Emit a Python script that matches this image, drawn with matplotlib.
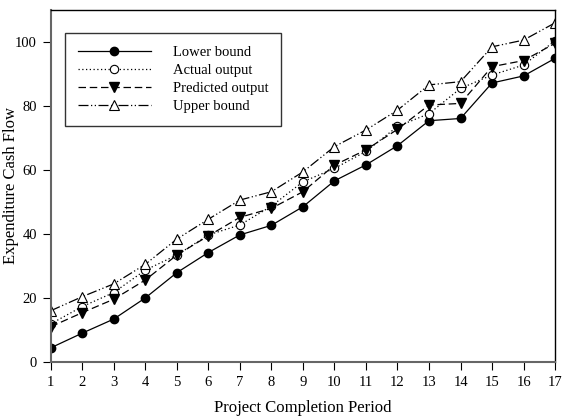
import numpy as np
import matplotlib.pyplot as plt

periods = list(range(1, 18))
lower = [4.4, 9.0, 13.4, 20.0, 27.9, 34.2, 39.7, 42.7, 48.5, 56.6, 61.6, 67.6, 75.4, 76.1, 87.2, 89.4, 94.9]
actual = [11.9, 17.3, 21.7, 28.7, 33.4, 39.7, 42.8, 48.7, 56.3, 60.5, 65.8, 73.6, 77.6, 85.5, 89.7, 92.8, 100.4]
predicted = [11.0, 15.4, 19.6, 25.6, 33.4, 39.4, 45.2, 48.0, 53.2, 61.5, 66.3, 72.7, 80.3, 80.8, 92.3, 94.2, 99.6]
upper = [16.0, 20.4, 24.4, 30.5, 38.4, 44.6, 50.6, 53.2, 59.4, 67.3, 72.5, 78.7, 86.6, 87.6, 98.5, 100.6, 106.0]

plt.rcParams['font.family'] = ['Liberation Serif', 'DejaVu Serif']

fig, ax = plt.subplots(figsize=(5.63, 4.17), dpi=100)
fig.subplots_adjust(left=0.09, right=0.986, top=0.976, bottom=0.132)

ax.plot(periods, lower, color='black', lw=0.9, ls='-', marker='o', ms=6,
        mfc='black', mec='black', label='Lower bound')
ax.plot(periods, actual, color='black', lw=0.9, ls=(0, (1, 2)), marker='o', ms=6,
        mfc='white', mec='black', mew=0.8, label='Actual output')
ax.plot(periods, predicted, color='black', lw=0.9, ls=(0, (6, 3)), marker='v', ms=6.5,
        mfc='black', mec='black', label='Predicted output')
ax.plot(periods, upper, color='black', lw=0.9, ls=(0, (8, 2, 1, 2, 1, 2)), marker='^', ms=6.5,
        mfc='white', mec='black', mew=0.8, label='Upper bound')

ax.set_xlim(1, 17)
ax.set_ylim(0, 110)
ax.set_xticks(periods)
ax.set_yticks([0, 20, 40, 60, 80, 100])
ax.tick_params(direction='out', length=6, width=0.8, labelsize=10.5, pad=4)

for s in ['left', 'bottom']:
    ax.spines[s].set_color('#666666')
    ax.spines[s].set_linewidth(1.5)
for s in ['top', 'right']:
    ax.spines[s].set_linewidth(1.0)

ax.set_xlabel('Project Completion Period', fontsize=12, labelpad=8)
ax.set_ylabel('Expenditure Cash Flow', fontsize=12)
ax.yaxis.set_label_coords(-0.062, 0.5)

leg = ax.legend(loc='upper left', bbox_to_anchor=(0.028, 0.935), borderaxespad=0,
                frameon=True, fancybox=False, edgecolor='black', fontsize=10.5,
                handlelength=5.0, handletextpad=1.5, borderpad=0.9, labelspacing=0.33)
leg.get_frame().set_linewidth(1.0)

plt.savefig('out.png', dpi=100)
